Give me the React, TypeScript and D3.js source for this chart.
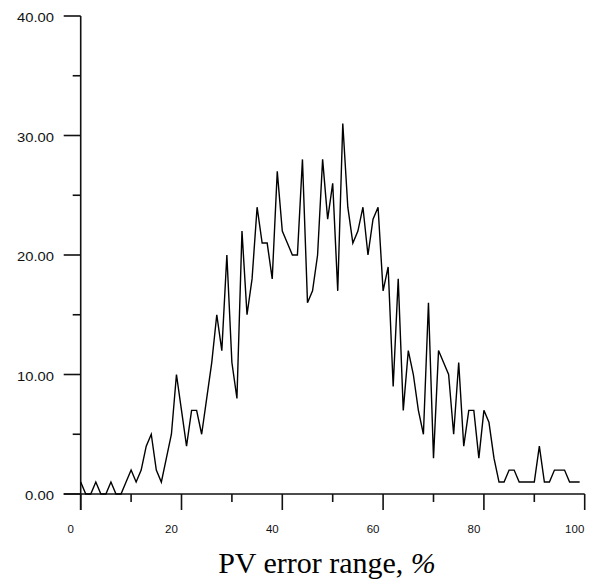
import React from "react";
import * as d3 from "d3";

const errorRange: number[] = d3.range(0, 100);
const counts: number[] = [
  1, 0, 0, 1, 0, 0, 1, 0, 0, 1,
  2, 1, 2, 4, 5, 2, 1, 3, 5, 10,
  7, 4, 7, 7, 5, 8, 11, 15, 12, 20,
  11, 8, 22, 15, 18, 24, 21, 21, 18, 27,
  22, 21, 20, 20, 28, 16, 17, 20, 28, 23,
  26, 17, 31, 24, 21, 22, 24, 20, 23, 24,
  17, 19, 9, 18, 7, 12, 10, 7, 5, 16,
  3, 12, 11, 10, 5, 11, 4, 7, 7, 3,
  7, 6, 3, 1, 1, 2, 2, 1, 1, 1,
  1, 4, 1, 1, 2, 2, 2, 1, 1, 1,
];
const xMajorTicks = [0, 20, 40, 60, 80, 100];
const xMinorTicks = [10, 30, 50, 70, 90];
const yMajorTicks = [0, 10, 20, 30, 40];
const yMinorTicks = [5, 15, 25, 35];
const xTitle = "PV error range, ";

export default function App() {
  const W = 592;
  const H = 582;
  const x = d3.scaleLinear().domain([0, 100]).range([80.7, 584.7]);
  const y = d3.scaleLinear().domain([0, 40]).range([494, 16]);
  const line = d3
    .line<number>()
    .x((_, i) => x(errorRange[i]))
    .y((d) => y(d));
  const axisColor = "#111";
  const labelFont = "'Liberation Sans', Arial, Helvetica, sans-serif";

  return (
    <svg
      width={W}
      height={H}
      style={{ position: "absolute", left: 0, top: 0, background: "#fff" }}
    >
      {/* y axis */}
      <line x1={x(0)} x2={x(0)} y1={y(40)} y2={y(0) + 16} stroke={axisColor} strokeWidth={1.6} />
      {yMajorTicks.map((t) => (
        <g key={"ym" + t}>
          <line x1={x(0) - 17} x2={x(0)} y1={y(t)} y2={y(t)} stroke={axisColor} strokeWidth={1.6} />
          <text
            x={54}
            y={y(t) + 3}
            textAnchor="end"
            dominantBaseline="middle"
            fontFamily={labelFont}
            fontSize={13}
            textLength={t >= 10 ? 37 : 29}
            lengthAdjust="spacingAndGlyphs"
            fill="#111"
          >
            {t.toFixed(2)}
          </text>
        </g>
      ))}
      {yMinorTicks.map((t) => (
        <line key={"yn" + t} x1={x(0) - 8} x2={x(0)} y1={y(t)} y2={y(t)} stroke={axisColor} strokeWidth={1.6} />
      ))}
      {/* x axis */}
      <line x1={x(0) - 17} x2={x(100)} y1={y(0)} y2={y(0)} stroke={axisColor} strokeWidth={1.6} />
      {xMajorTicks.map((t) => (
        <g key={"xm" + t}>
          <line x1={x(t)} x2={x(t)} y1={y(0)} y2={y(0) + 16} stroke={axisColor} strokeWidth={1.6} />
          <text
            x={x(t) - 10}
            y={530}
            textAnchor="middle"
            dominantBaseline="middle"
            fontFamily={labelFont}
            fontSize={11.5}
            fill="#111"
          >
            {t}
          </text>
        </g>
      ))}
      {xMinorTicks.map((t) => (
        <line key={"xn" + t} x1={x(t)} x2={x(t)} y1={y(0)} y2={y(0) + 8} stroke={axisColor} strokeWidth={1.6} />
      ))}
      {/* data line */}
      <path d={line(counts) || ""} fill="none" stroke="#000" strokeWidth={1.4} strokeLinejoin="miter" />
      {/* title */}
      <text
        x={327}
        y={573}
        textAnchor="middle"
        fontFamily="'Liberation Serif', 'Times New Roman', serif"
        fontSize={30}
        fill="#000"
      >
        {xTitle}
        <tspan fontStyle="italic">%</tspan>
      </text>
    </svg>
  );
}
